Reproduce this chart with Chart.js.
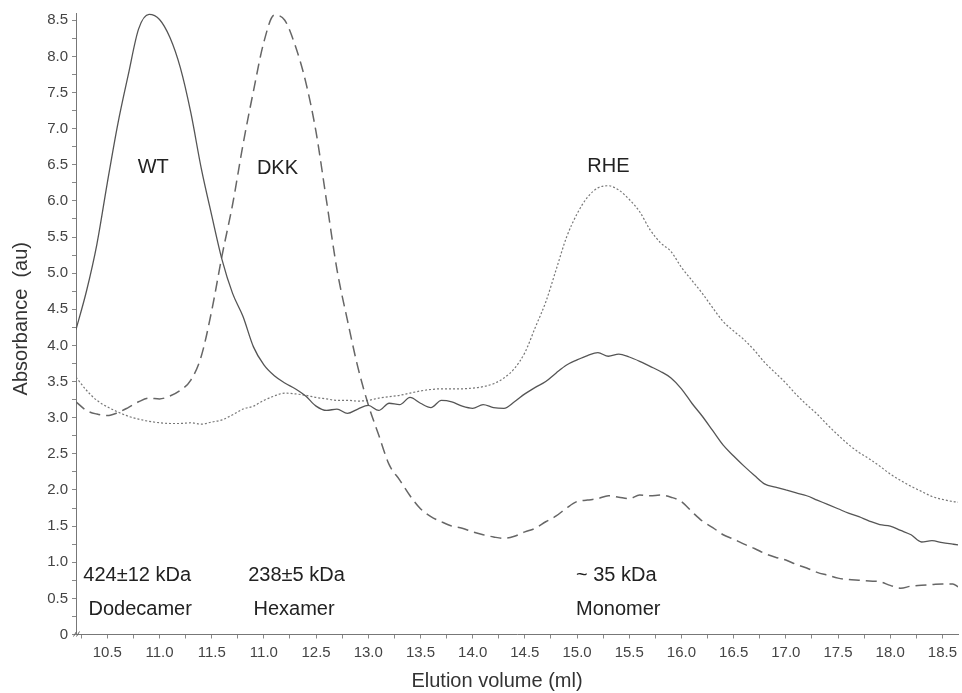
<!DOCTYPE html>
<html>
<head>
<meta charset="utf-8">
<script src="https://cdn.jsdelivr.net/npm/chart.js@4.4.1/dist/chart.umd.min.js"></script>
<style>
  html, body { margin: 0; padding: 0; background: #fff; }
  #wrap { width: 962px; height: 693px; }
</style>
</head>
<body>
<div id="wrap"><canvas id="chart" width="962" height="693"></canvas></div>
<script>
// elution volume (ml)
const volumes = [
  10.2, 10.3, 10.4, 10.5, 10.6, 10.7, 10.8, 10.9, 11.0, 11.1,
  11.2, 11.3, 11.4, 11.5, 11.6, 11.7, 11.8, 11.9, 12.0, 12.1,
  12.2, 12.3, 12.4, 12.5, 12.6, 12.7, 12.8, 12.9, 13.0, 13.1,
  13.2, 13.3, 13.4, 13.5, 13.6, 13.7, 13.8, 13.9, 14.0, 14.1,
  14.2, 14.3, 14.4, 14.5, 14.6, 14.7, 14.8, 14.9, 15.0, 15.1,
  15.2, 15.3, 15.4, 15.5, 15.6, 15.7, 15.8, 15.9, 16.0, 16.1,
  16.2, 16.3, 16.4, 16.5, 16.6, 16.7, 16.8, 16.9, 17.0, 17.1,
  17.2, 17.3, 17.4, 17.5, 17.6, 17.7, 17.8, 17.9, 18.0, 18.1,
  18.2, 18.3, 18.4, 18.5, 18.6, 18.65
];

// absorbance (au)
const wtValues = [
  4.22, 4.75, 5.40, 6.25, 7.06, 7.74, 8.38, 8.58, 8.51, 8.26,
  7.84, 7.22, 6.45, 5.80, 5.18, 4.72, 4.40, 3.98, 3.73, 3.58,
  3.48, 3.40, 3.30, 3.16, 3.10, 3.12, 3.06, 3.12, 3.17, 3.10,
  3.20, 3.18, 3.28, 3.20, 3.14, 3.24, 3.22, 3.16, 3.13, 3.18,
  3.14, 3.13, 3.22, 3.33, 3.42, 3.50, 3.62, 3.73, 3.80, 3.86,
  3.90, 3.85, 3.88, 3.84, 3.78, 3.71, 3.64, 3.55, 3.40, 3.20,
  3.02, 2.82, 2.62, 2.47, 2.33, 2.20, 2.08, 2.04, 2.00, 1.96,
  1.92, 1.86, 1.80, 1.74, 1.68, 1.63, 1.57, 1.52, 1.50, 1.44,
  1.38, 1.28, 1.30, 1.27, 1.25, 1.24
];

const dkkValues = [
  3.22, 3.10, 3.05, 3.03, 3.07, 3.14, 3.22, 3.27, 3.26, 3.30,
  3.38, 3.52, 3.85, 4.48, 5.25, 5.95, 6.78, 7.52, 8.20, 8.57,
  8.50, 8.15, 7.65, 6.95, 6.00, 5.05, 4.35, 3.70, 3.18, 2.76,
  2.35, 2.14, 1.92, 1.74, 1.63, 1.56, 1.50, 1.47, 1.42, 1.38,
  1.35, 1.33, 1.36, 1.42, 1.47, 1.56, 1.64, 1.75, 1.84, 1.86,
  1.88, 1.92, 1.90, 1.88, 1.93, 1.92, 1.93, 1.90, 1.84, 1.70,
  1.57, 1.48, 1.38, 1.32, 1.25, 1.19, 1.12, 1.07, 1.03, 0.97,
  0.92, 0.86, 0.82, 0.78, 0.76, 0.75, 0.74, 0.73, 0.68, 0.64,
  0.67, 0.68, 0.69, 0.70, 0.70, 0.66
];

const rheValues = [
  3.56, 3.38, 3.24, 3.15, 3.08, 3.02, 2.98, 2.95, 2.93, 2.92,
  2.92, 2.93, 2.91, 2.94, 2.97, 3.04, 3.12, 3.16, 3.24, 3.30,
  3.34, 3.33, 3.31, 3.28, 3.26, 3.24, 3.24, 3.23, 3.24, 3.27,
  3.29, 3.31, 3.34, 3.37, 3.39, 3.40, 3.40, 3.40, 3.41, 3.43,
  3.47, 3.55, 3.68, 3.90, 4.25, 4.60, 5.05, 5.50, 5.82, 6.05,
  6.18, 6.21, 6.15, 6.02, 5.85, 5.60, 5.42, 5.30, 5.08, 4.90,
  4.72, 4.52, 4.33, 4.20, 4.08, 3.93, 3.76, 3.62, 3.48, 3.32,
  3.18, 3.05, 2.90, 2.76, 2.63, 2.52, 2.43, 2.33, 2.22, 2.13,
  2.05, 1.98, 1.91, 1.87, 1.84, 1.83
];

// tick labels exactly as printed (the 4th x label reads 11.0 in the original)
const xTickLabels = ['10.5', '11.0', '11.5', '11.0', '12.5', '13.0', '13.5', '14.0', '14.5',
                     '15.0', '15.5', '16.0', '16.5', '17.0', '17.5', '18.0', '18.5'];
const yTickLabels = ['0', '0.5', '1.0', '1.5', '2.0', '2.5', '3.0', '3.5', '4.0',
                     '4.5', '5.0', '5.5', '6.0', '6.5', '7.0', '7.5', '8.0', '8.5'];

// text labels placed in data coordinates
const peakLabels = [
  { text: 'WT', x: 10.94, y: 6.46, align: 'center' },
  { text: 'DKK', x: 12.13, y: 6.45, align: 'center' },
  { text: 'RHE', x: 15.30, y: 6.47, align: 'center' },
  { text: '424±12 kDa', x: 10.27, y: 0.82, align: 'left' },
  { text: 'Dodecamer', x: 10.32, y: 0.34, align: 'left' },
  { text: '238±5 kDa', x: 11.85, y: 0.82, align: 'left' },
  { text: 'Hexamer', x: 11.90, y: 0.34, align: 'left' },
  { text: '~ 35 kDa', x: 14.99, y: 0.82, align: 'left' },
  { text: 'Monomer', x: 14.99, y: 0.34, align: 'left' }
];

const FONT = '"Liberation Sans", Arial, sans-serif';
Chart.defaults.font.family = FONT;

function toPoints(ys) {
  return volumes.map((v, i) => ({ x: v, y: ys[i] }));
}

// annotations, axis titles and the axis-break mark
const overlayPlugin = {
  id: 'overlay',
  afterDraw(chart) {
    const { ctx, chartArea, scales } = chart;
    const xs = scales.x, ys = scales.y;
    ctx.save();
    ctx.fillStyle = '#222';
    ctx.font = '20px ' + FONT;
    ctx.textBaseline = 'middle';
    peakLabels.forEach(l => {
      ctx.textAlign = l.align;
      ctx.fillText(l.text, xs.getPixelForValue(l.x), ys.getPixelForValue(l.y));
    });

    // axis titles
    ctx.fillStyle = '#333';
    ctx.font = '20px ' + FONT;
    ctx.textAlign = 'center';
    ctx.fillText('Elution volume (ml)', chartArea.left + (chartArea.right - chartArea.left) / 2 - 20, 681);
    ctx.translate(21, (chartArea.top + chartArea.bottom) / 2 - 5);
    ctx.rotate(-Math.PI / 2);
    ctx.fillText('Absorbance  (au)', 0, 0);
    ctx.restore();

    // little "//" break at the origin
    ctx.save();
    ctx.strokeStyle = '#666';
    ctx.lineWidth = 1;
    const ox = chartArea.left, oy = chartArea.bottom;
    [-1, 2].forEach(d => {
      ctx.beginPath();
      ctx.moveTo(ox + d - 1.5, oy + 2);
      ctx.lineTo(ox + d + 1.5, oy - 3);
      ctx.stroke();
    });
    ctx.restore();
  }
};

new Chart(document.getElementById('chart'), {
  type: 'line',
  data: {
    datasets: [
      {
        label: 'WT',
        data: toPoints(wtValues),
        borderColor: '#555',
        borderWidth: 1.3,
        cubicInterpolationMode: 'monotone',
        pointRadius: 0
      },
      {
        label: 'DKK',
        data: toPoints(dkkValues),
        borderColor: '#666',
        borderWidth: 1.5,
        borderDash: [11, 6],
        cubicInterpolationMode: 'monotone',
        pointRadius: 0
      },
      {
        label: 'RHE',
        data: toPoints(rheValues),
        borderColor: '#777',
        borderWidth: 1.2,
        borderDash: [2, 2],
        cubicInterpolationMode: 'monotone',
        pointRadius: 0
      }
    ]
  },
  options: {
    responsive: false,
    animation: false,
    layout: { padding: { top: 13, right: 0, left: 0, bottom: 0 } },
    plugins: {
      legend: { display: false },
      tooltip: { enabled: false }
    },
    scales: {
      x: {
        type: 'linear',
        min: 10.2,
        max: 18.65,
        border: { color: '#777', width: 1 },
        grid: { drawOnChartArea: false, drawTicks: true, tickLength: 4, color: '#888' },
        ticks: {
          stepSize: 0.25,
          includeBounds: false,
          autoSkip: false,
          maxRotation: 0,
          padding: 5,
          color: '#444',
          font: { size: 15 },
          callback(value) {
            const k = (value - 10.5) / 0.5;
            const i = Math.round(k);
            return Math.abs(k - i) < 1e-6 && i >= 0 && i < xTickLabels.length ? xTickLabels[i] : '';
          }
        },
        afterFit(scale) { scale.height = 58.5; }
      },
      y: {
        type: 'linear',
        min: 0,
        max: 8.6,
        border: { color: '#777', width: 1 },
        grid: { drawOnChartArea: false, drawTicks: true, tickLength: 4, color: '#888' },
        ticks: {
          stepSize: 0.25,
          includeBounds: false,
          autoSkip: false,
          padding: 4,
          color: '#444',
          font: { size: 15 },
          callback(value) {
            const k = value / 0.5;
            const i = Math.round(k);
            return Math.abs(k - i) < 1e-6 && i >= 0 && i < yTickLabels.length ? yTickLabels[i] : '';
          }
        },
        afterFit(scale) { scale.width = 76; }
      }
    }
  },
  plugins: [overlayPlugin]
});
</script>
</body>
</html>
